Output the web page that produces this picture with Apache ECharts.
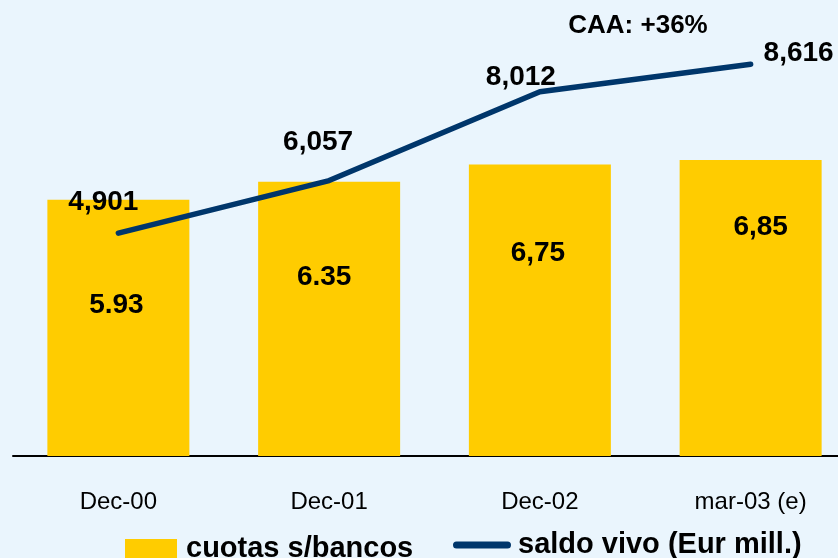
<!DOCTYPE html>
<html>
<head>
<meta charset="utf-8">
<script src="https://cdn.jsdelivr.net/npm/echarts@6/dist/echarts.min.js"></script>
<style>
html, body { margin: 0; padding: 0; background: #eaf5fd; }
#chart { width: 838px; height: 558px; }
</style>
</head>
<body>
<div id="chart"></div>
<script>
// data
const categories = ['Dec-00', 'Dec-01', 'Dec-02', 'mar-03 (e)'];
const cuotas = [5.93, 6.35, 6.75, 6.85];
const cuotasLabels = ['5.93', '6.35', '6,75', '6,85'];
const saldo = [4901, 6057, 8012, 8616];
const saldoLabels = ['4,901', '6,057', '8,012', '8,616'];

// label nudges (px), layout only
const barNudge = [[-2, 105], [-5, 96], [-2, 89], [10, 67]];
const lineNudge = [[-15, -31], [-11, -38], [-19, -14], [48, -11]];

const font = 'Liberation Sans, Arial, sans-serif';
const chart = echarts.init(document.getElementById('chart'));

const barData = cuotas.map((v, i) => ({
 value: v,
 label: { offset: barNudge[i] }
}));
const lineData = saldo.map((v, i) => ({
 value: v,
 label: { offset: lineNudge[i] }
}));

const option = {
 backgroundColor: '#eaf5fd',
 animation: false,
 grid: { left: 13, width: 843, top: 24, height: 432, outerBoundsMode: 'none', containLabel: false },
 xAxis: {
 type: 'category',
 data: categories,
 axisLine: { lineStyle: { color: '#000', width: 2 } },
 axisTick: { show: false },
 axisLabel: { color: '#000', fontFamily: font, fontSize: 24, margin: 34 }
 },
 yAxis: [
 { type: 'value', min: 0, max: 10, show: false, splitLine: { show: false } },
 { type: 'value', min: 0, max: 9500, show: false, splitLine: { show: false } }
 ],
 legend: [
 {
 data: ['cuotas s/bancos'],
 left: 125, top: 529, padding: 0,
 itemWidth: 52, itemHeight: 20, icon: 'rect',
 textStyle: { color: '#000', fontFamily: font, fontWeight: 'bold', fontSize: 29,
 lineHeight: 30, padding: [0, 0, 10, 4] }
 },
 {
 data: ['saldo vivo (Eur mill.)'],
 left: 453, top: 530, padding: 0,
 itemWidth: 58, itemHeight: 7,
 icon: 'path://M3.5,0H54.5A3.5,3.5 0 0 1 54.5,7H3.5A3.5,3.5 0 0 1 3.5,0Z',
 textStyle: { color: '#000', fontFamily: font, fontWeight: 'bold', fontSize: 29,
 lineHeight: 30, padding: [0, 0, 0, 2] }
 }
 ],
 graphic: [{
 type: 'text', x: 638, y: 26,
 style: { text: 'CAA: +36%', align: 'center', verticalAlign: 'middle',
 fill: '#000', font: 'bold 26px ' + font }
 }],
 series: [
 {
 name: 'cuotas s/bancos',
 type: 'bar',
 data: barData,
 barWidth: 142,
 itemStyle: { color: '#ffcc00' },
 label: {
 show: true, position: ['50%', 0], align: 'center', verticalAlign: 'middle',
 color: '#000', fontFamily: font, fontWeight: 'bold', fontSize: 28,
 formatter: p => cuotasLabels[p.dataIndex]
 }
 },
 {
 name: 'saldo vivo (Eur mill.)',
 type: 'line',
 yAxisIndex: 1,
 data: lineData,
 symbol: 'circle', symbolSize: 1, showSymbol: true,
 itemStyle: { color: '#00366b' },
 lineStyle: { color: '#00366b', width: 5.5, cap: 'round', join: 'round' },
 label: {
 show: true, position: 'inside', align: 'center', verticalAlign: 'middle',
 color: '#000', fontFamily: font, fontWeight: 'bold', fontSize: 28,
 formatter: p => saldoLabels[p.dataIndex]
 },
 z: 5
 }
 ]
};
chart.setOption(option);
</script>
</body>
</html>
